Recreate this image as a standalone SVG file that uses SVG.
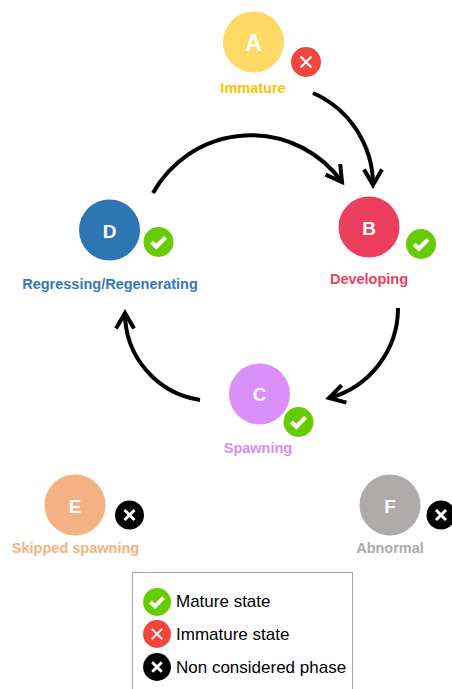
<svg xmlns="http://www.w3.org/2000/svg" xmlns:xlink="http://www.w3.org/1999/xlink" width="452" height="689" viewBox="0 0 452 689">
<style>
.lbl{font-family:"Liberation Sans",Arial,sans-serif;font-weight:bold;font-size:14.5px;text-anchor:middle}
.let{font-family:"Liberation Sans",Arial,sans-serif;font-weight:bold;font-size:19px;fill:#fff;text-anchor:middle}
.leg{font-family:"Liberation Sans",Arial,sans-serif;font-size:17px;fill:#000}
.arc{fill:none;stroke:#000;stroke-width:4;marker-end:url(#head)}
</style>
<defs>
<marker id="head" markerUnits="userSpaceOnUse" viewBox="-20 -12 24 24" refX="0" refY="0" markerWidth="24" markerHeight="24" orient="auto" overflow="visible">
<path d="M-15.6,-9 L0,0 L-15.6,9" fill="none" stroke="#000" stroke-width="4" stroke-linejoin="miter"/>
</marker>
<g id="chk"><circle r="15" fill="#66CC00"/><path d="M-7,0 L-2.2,4.8 L7,-4.6" fill="none" stroke="#fff" stroke-width="4.2"/></g>
<g id="redx"><circle r="15" fill="#F2463C"/><path d="M-5.5,-5.5 L5.5,5.5 M5.5,-5.5 L-5.5,5.5" stroke="#fff" stroke-width="2.2"/></g>
<g id="blkx"><circle r="14.5" fill="#000"/><path d="M-5,-5 L5,5 M5,-5 L-5,5" stroke="#fff" stroke-width="3"/></g>
</defs>
<rect width="452" height="689" fill="#fff"/>
<g id="connectors">
<path class="arc" d="M313,93 A100.5,100.5 0 0 1 373,185"/>
<path class="arc" d="M153,193 A112,112 0 0 1 342,182"/>
<path class="arc" d="M398,308 A93.2,93.2 0 0 1 329,398"/>
<path class="arc" d="M200,400 A88,88 0 0 1 125,313"/>
</g>
<g id="nodeA">
<circle cx="253.5" cy="42" r="30.5" fill="#FFD966"/>
<text class="let" x="253.5" y="50.5" style="font-size:23px">A</text>
<use href="#redx" xlink:href="#redx" transform="translate(306,62)"/>
<text class="lbl" x="253" y="93" fill="#FFC000">Immature</text>
</g>
<g id="nodeB">
<circle cx="369" cy="227" r="30.5" fill="#EE3E5E"/>
<text class="let" x="369" y="234.5">B</text>
<use href="#chk" xlink:href="#chk" transform="translate(421,244)"/>
<text class="lbl" x="369" y="284" fill="#EE3E5E">Developing</text>
</g>
<g id="nodeC">
<circle cx="259.5" cy="394" r="30.5" fill="#DA8FFB"/>
<text class="let" x="259.5" y="401">C</text>
<use href="#chk" xlink:href="#chk" transform="translate(298.5,422)"/>
<text class="lbl" x="258" y="453" fill="#D88CF8">Spawning</text>
</g>
<g id="nodeD">
<circle cx="109.5" cy="230" r="30.5" fill="#2E75B6"/>
<text class="let" x="109.5" y="237.5">D</text>
<use href="#chk" xlink:href="#chk" transform="translate(158.5,242)"/>
<text class="lbl" x="110" y="289" fill="#3478BA">Regressing/Regenerating</text>
</g>
<g id="nodeE">
<circle cx="75" cy="505" r="30.5" fill="#F4B183"/>
<text class="let" x="75" y="512.5">E</text>
<use href="#blkx" xlink:href="#blkx" transform="translate(129.5,515)"/>
<text class="lbl" x="75.5" y="553" fill="#F4B183">Skipped spawning</text>
</g>
<g id="nodeF">
<circle cx="390" cy="505" r="30.5" fill="#AFABAB"/>
<text class="let" x="390" y="512.5">F</text>
<use href="#blkx" xlink:href="#blkx" transform="translate(441,515)"/>
<text class="lbl" x="390" y="553" fill="#AFABAB">Abnormal</text>
</g>
<g id="legend">
<rect x="132.5" y="572.5" width="220" height="130" fill="#fff" stroke="#A6A6A6" stroke-width="1"/>
<use href="#chk" xlink:href="#chk" transform="translate(157,602) scale(0.93)"/>
<text class="leg" x="176" y="607">Mature state</text>
<use href="#redx" xlink:href="#redx" transform="translate(157,634) scale(0.93)"/>
<text class="leg" x="176" y="640">Immature state</text>
<use href="#blkx" xlink:href="#blkx" transform="translate(157,667) scale(0.96)"/>
<text class="leg" x="176" y="673">Non considered phase</text>
</g>
</svg>
